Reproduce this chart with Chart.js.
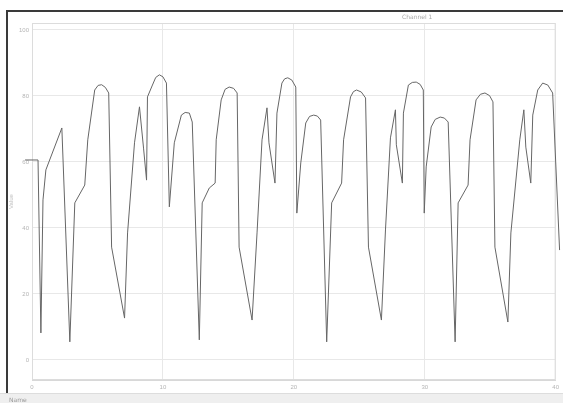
<!DOCTYPE html>
<html lang="en">
<head>
  <meta charset="UTF-8">
  <title>Signal trace</title>
  <script src="https://cdn.jsdelivr.net/npm/chart.js"></script>
  <style>
    body { margin:0; background:#fff; font-family:"DejaVu Sans", Arial, sans-serif }
    .wrap { position:relative; width:563px; height:403px; overflow:hidden }
    canvas { position:absolute; left:0; top:0 }
    .frame {
      position:absolute; left:6px; top:10px; width:560px; height:383px;
      border-left:2px solid #3a3a3a; border-top:2px solid #3a3a3a; pointer-events:none;
    }
    .strip {
      position:absolute; left:0; top:393px; width:563px; height:10px;
      background:#efefef; border-top:1px solid #ddd; font-size:6px; color:#999;
    }
    .strip span { position:absolute; left:9px; top:2px }
    .legend { position:absolute; left:402px; top:13px; font-size:6px; color:#aaa }
  </style>
</head>
<body>
  <div class="wrap">
    <canvas id="sig" width="563" height="403"></canvas>
    <div class="frame"></div>
    <div class="legend">Channel 1</div>
    <div class="strip"><span>Name</span></div>
  </div>

  <script>
    // trace (x = time, y = value)
    const timeVals=[
      -0.53,0.46,0.68,0.84,1.06,2.28,2.89,3.27,4.03,4.26,4.79,5.05,5.32,5.6,5.86,6.08,7.07,7.30,7.83,8.21,8.52,8.75,8.82,9.20,9.45,9.73,10.0,10.27,10.49,10.87,11.41,11.7,12.02,12.24,12.78,
      13.00,13.54,13.99,14.07,14.45,14.75,15.06,15.4,15.67,15.82,16.81,17.19,17.57,17.95,18.10,18.56,18.71,19.09,19.3,19.54,19.85,20.15,20.23,20.53,20.91,21.2,21.52,21.8,22.05,22.51,
      22.89,23.65,23.80,24.33,24.55,24.79,25.15,25.48,25.70,26.69,27.00,27.38,27.76,27.83,28.29,28.37,28.75,29.05,29.35,29.65,29.89,29.96,30.11,30.49,30.8,31.18,31.5,31.79,32.32,
      32.55,33.31,33.46,33.92,34.25,34.60,34.95,35.21,35.36,36.35,36.58,37.26,37.57,37.72,38.10,38.25,38.63,39.01,39.4,39.77,40.30];
    const signalVals=[
      60.6,60.6,8.2,48.5,57.6,70.3,5.5,47.6,53.0,66.7,81.8,83.2,83.4,82.6,80.9,34.2,12.7,38.5,65.8,76.7,64.2,54.5,79.7,83.3,85.6,86.4,85.8,83.9,46.4,65.8,74.2,75.0,74.8,72.1,6.1,
      47.6,52.1,53.6,66.7,78.8,82.0,82.7,82.3,80.9,34.2,12.1,38.5,66.7,76.4,65.8,53.6,74.8,83.9,85.2,85.5,84.8,82.7,44.5,59.7,71.8,73.8,74.2,73.9,72.7,5.5,
      47.6,53.6,66.7,79.7,81.3,81.8,81.2,79.4,34.2,12.1,39.4,67.3,75.8,65.2,53.6,74.8,83.3,84.1,84.2,83.5,81.8,44.5,58.5,70.6,72.9,73.6,73.3,72.1,5.5,
      47.6,53.0,66.7,78.8,80.5,80.9,80.1,78.2,34.2,11.5,38.5,66.7,75.8,64.5,53.6,74.2,81.8,83.9,83.3,80.9,33.3];
    const xTicks=[0,10,20,30,40];
    const yTicks=[0,20,40,60,80,100];

    const points=timeVals.map((t,i)=>({x:t,y:signalVals[i]}));

    // light box round the plot area
    const plotBox={
      id:"plotBox",
      beforeDatasetsDraw(c){
        const a=c.chartArea, ctx=c.ctx;
        ctx.save();
        ctx.strokeStyle="#dcdcdc"; ctx.lineWidth=1;
        ctx.strokeRect(a.left+0.5,a.top+0.5,a.right-a.left-1,a.bottom-a.top-1);
        ctx.restore();
      }
    };

    new Chart(document.getElementById("sig"),{
      type:"line",
      data:{datasets:[{
        label:"Channel 1",
        data:points,
        borderColor:"#666", borderWidth:1,
        pointRadius:0, fill:false, clip:false, tension:0
      }]},
      options:{
        responsive:false, animation:false,
        layout:{padding:{left:0,top:23,right:4,bottom:10}},
        plugins:{legend:{display:false},tooltip:{enabled:false}},
        scales:{
          x:{
            type:"linear", min:0, max:40,
            afterBuildTicks:s=>{ s.ticks=xTicks.map(v=>({value:v})); },
            afterFit:s=>{ s.height=13; },
            grid:{color:"#e8e8e8",drawTicks:false},
            border:{color:"#d8d8d8"},
            ticks:{color:"#b5b5b5",font:{size:6},padding:4,maxRotation:0}
          },
          y:{
            min:-6.06, max:102.1,
            afterBuildTicks:s=>{ s.ticks=yTicks.map(v=>({value:v})); },
            afterFit:s=>{ s.width=32; },
            grid:{color:"#e8e8e8",drawTicks:false},
            border:{color:"#d8d8d8"},
            title:{display:true,text:"Value",color:"#c0c0c0",font:{size:6},padding:{top:8,bottom:0}},
            ticks:{color:"#b5b5b5",font:{size:6},padding:3}
          }
        }
      },
      plugins:[plotBox]
    });
  </script>
</body>
</html>
